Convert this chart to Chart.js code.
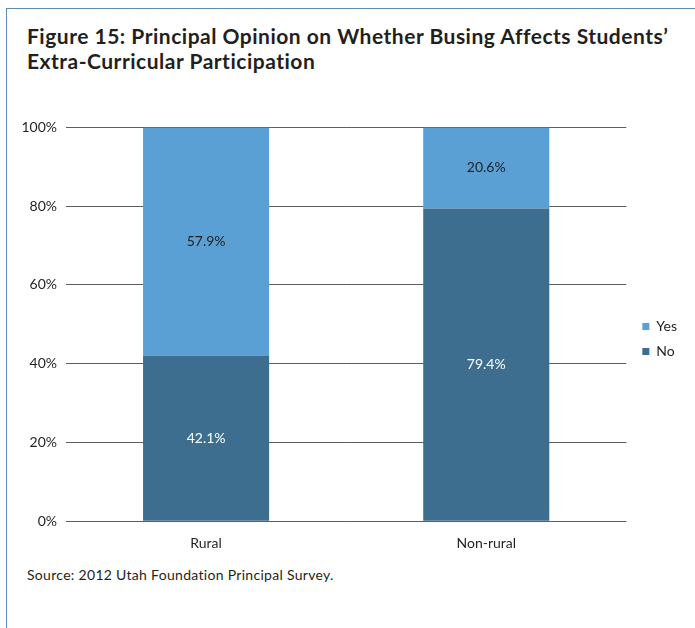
<!DOCTYPE html>
<html>
<head>
<meta charset="utf-8">
<script src="https://cdn.jsdelivr.net/npm/chart.js@4.4.1/dist/chart.umd.min.js"></script>
<style>
  html, body { margin: 0; padding: 0; background: #fff; }
  body { width: 695px; height: 628px; position: relative; overflow: hidden; font-family: Lato, "Open Sans", sans-serif; }
  .frame { position: absolute; left: 6px; top: 8px; width: 700px; height: 640px; border-left: 1px solid #5d8db6; border-top: 1px solid #5d8db6; }
  .title { position: absolute; left: 27px; top: 23px; font-weight: 700; font-size: 21px; letter-spacing: 0.5px; line-height: 25px; color: #231f20; }
  .source { position: absolute; left: 27px; top: 566px; font-size: 14px; letter-spacing: 0.3px; color: #231f20; }
  .chart-box { position: absolute; left: 0; top: 110px; width: 695px; height: 452px; }
</style>
</head>
<body>
<div class="frame"></div>
<div class="title">Figure 15: Principal Opinion on Whether Busing Affects Students’<br>Extra-Curricular Participation</div>
<div class="chart-box"><canvas id="chart"></canvas></div>
<div class="source">Source: 2012 Utah Foundation Principal Survey.</div>

<script>
// datos
const categorias = ['Rural', 'Non-rural'];
const valoresNo = [42.1, 79.4];
const valoresYes = [57.9, 20.6];
const ticksY = [0, 20, 40, 60, 80, 100];

const colorNo = '#3d6e8f';
const colorYes = '#5aa0d4';

// etiquetas centradas dentro de cada segmento
const etiquetasBarras = {
    id: 'etiquetasBarras',
    afterDatasetsDraw(chart) {
        const ctx = chart.ctx;
        ctx.save();
        ctx.font = '14px Lato, sans-serif';
        ctx.textAlign = 'center';
        ctx.textBaseline = 'middle';
        chart.data.datasets.forEach((ds, i) => {
            const meta = chart.getDatasetMeta(i);
            meta.data.forEach((bar, j) => {
                ctx.fillStyle = ds.labelColor;
                ctx.fillText(ds.data[j].toFixed(1) + '%', bar.x, (bar.y + bar.base) / 2);
            });
        });
        ctx.restore();
    }
};

// pequeño desplazamiento de la leyenda hacia la derecha y abajo
const ajusteLeyenda = {
    id: 'ajusteLeyenda',
    afterLayout(chart) {
        if (chart.legend) {
            chart.legend.left += 5;
            chart.legend.right += 5;
            chart.legend.top += 3;
            chart.legend.bottom += 3;
        }
    }
};

new Chart(document.getElementById('chart'), {
    type: 'bar',
    data: {
        labels: categorias,
        datasets: [
            { label: 'No', data: valoresNo, backgroundColor: colorNo, labelColor: '#ffffff' },
            { label: 'Yes', data: valoresYes, backgroundColor: colorYes, labelColor: '#231f20' }
        ]
    },
    options: {
        responsive: true,
        maintainAspectRatio: false,
        animation: false,
        layout: { padding: { top: 4, bottom: 4, left: 0, right: 13 } },
        datasets: { bar: { barPercentage: 0.45, categoryPercentage: 1 } },
        plugins: {
            legend: {
                position: 'right',
                reverse: true,
                labels: {
                    boxWidth: 7, boxHeight: 7, padding: 11,
                    color: '#231f20',
                    font: { family: 'Lato, sans-serif', size: 14 }
                }
            },
            tooltip: { enabled: false }
        },
        scales: {
            x: {
                stacked: true,
                grid: { display: false },
                border: { display: false },
                ticks: { color: '#231f20', padding: 6, font: { family: 'Lato, sans-serif', size: 14 } }
            },
            y: {
                stacked: true,
                min: 0,
                max: 100,
                afterFit(scale) { scale.width = 66; },
                afterBuildTicks(scale) { scale.ticks = ticksY.map(v => ({ value: v })); },
                grid: { color: '#5e5e5e', lineWidth: 1, drawTicks: false },
                border: { display: false },
                ticks: {
                    padding: 9,
                    color: '#231f20',
                    font: { family: 'Lato, sans-serif', size: 14 },
                    callback: v => v + '%'
                }
            }
        }
    },
    plugins: [etiquetasBarras, ajusteLeyenda]
});
</script>
</body>
</html>
